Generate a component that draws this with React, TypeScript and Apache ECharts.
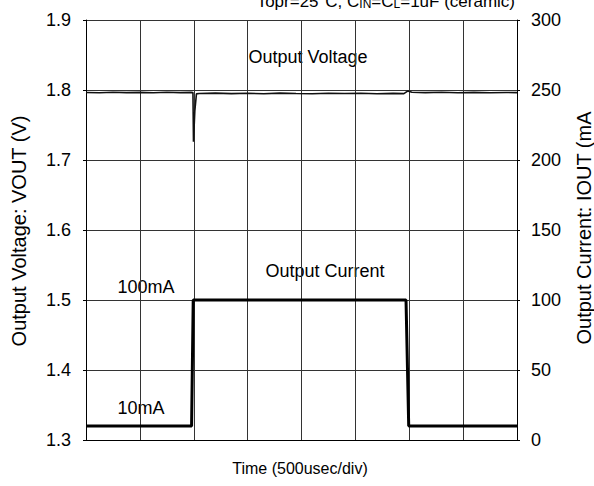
import React, { useEffect, useRef } from "react";
import * as echarts from "echarts";

// time in divisions (500usec/div)
const voltageTime = [0, 0.25, 0.5, 0.75, 1.0, 1.25, 1.5, 1.75, 1.95, 1.985, 1.995, 2.02, 2.05, 2.1, 2.4, 2.7, 3.0, 3.3, 3.6, 3.9, 4.2, 4.5, 4.8, 5.1, 5.4, 5.7, 5.9, 5.97, 6.05, 6.3, 6.6, 6.9, 7.2, 7.5, 7.8, 8.0];
const voltageValues = [1.7965, 1.796, 1.7968, 1.7962, 1.7966, 1.796, 1.7967, 1.7962, 1.7966, 1.7963, 1.726, 1.77, 1.7945, 1.795, 1.7955, 1.7948, 1.7953, 1.7947, 1.7955, 1.795, 1.7946, 1.7954, 1.7949, 1.7953, 1.7946, 1.7952, 1.7948, 1.7985, 1.7968, 1.7962, 1.7967, 1.796, 1.7966, 1.7961, 1.7965, 1.7962];

const currentTime = [0, 1.96, 1.99, 5.94, 5.99, 8.0];
const currentValues = [10, 10, 100, 100, 10, 10];

const voltTicks = [1.3, 1.9];
const currTicks = [0, 300];

export default function App() {
  const ref = useRef<HTMLDivElement>(null);
  useEffect(() => {
    if (!ref.current) return;
    const chart = echarts.init(ref.current, undefined, { renderer: "svg" });
    const font = "Liberation Sans, Arial, sans-serif";
    const txt = (text: string, x: number, y: number, size: number, rotation = 0) => ({
      type: "text",
      x,
      y,
      rotation,
      style: { text, fontSize: size, fontFamily: font, fill: "#000", align: "center", verticalAlign: "middle" },
    });
    chart.setOption({
      animation: false,
      textStyle: { fontFamily: font },
      grid: { left: 86, right: 77, top: 20, bottom: 46 },
      xAxis: {
        type: "value",
        min: 0,
        max: 8,
        interval: 1,
        axisLine: { show: true, onZero: false, lineStyle: { color: "#000", width: 1 } },
        axisTick: { show: false },
        axisLabel: { show: false },
        splitLine: { show: true, lineStyle: { color: "#333", width: 1 } },
      },
      yAxis: [
        {
          type: "value",
          min: voltTicks[0],
          max: voltTicks[1],
          interval: 0.1,
          position: "left",
          axisLine: { show: true, lineStyle: { color: "#000", width: 1 } },
          axisTick: { show: true, length: 3, lineStyle: { color: "#000" } },
          axisLabel: {
            color: "#000",
            fontSize: 18,
            fontFamily: font,
            margin: 15,
            formatter: (v: number) => v.toFixed(1),
          },
          splitLine: { show: true, lineStyle: { color: "#333", width: 1 } },
        },
        {
          type: "value",
          min: currTicks[0],
          max: currTicks[1],
          interval: 50,
          position: "right",
          axisLine: { show: true, lineStyle: { color: "#000", width: 1 } },
          axisTick: { show: true, length: 3, lineStyle: { color: "#000" } },
          axisLabel: { color: "#000", fontSize: 18, fontFamily: font, margin: 14 },
          splitLine: { show: false },
        },
      ],
      series: [
        {
          type: "line",
          yAxisIndex: 0,
          data: voltageTime.map((t, i) => [t, voltageValues[i]]),
          symbol: "none",
          lineStyle: { color: "#111", width: 1.6 },
        },
        {
          type: "line",
          yAxisIndex: 1,
          data: currentTime.map((t, i) => [t, currentValues[i]]),
          symbol: "none",
          lineStyle: { color: "#000", width: 3 },
        },
      ],
      graphic: [
        {
          type: "text",
          x: 515,
          y: 10,
          style: {
            text: "Topr=25°C, C{s|IN}=C{s|L}=1uF (ceramic)",
            fontSize: 17,
            fontFamily: font,
            fill: "#000",
            align: "right",
            verticalAlign: "bottom",
            rich: { s: { fontSize: 12, fontFamily: font, padding: [6, 0, 0, 0] } },
          },
        },
        txt("Output Voltage", 308, 57, 18),
        txt("Output Current", 325, 271, 18),
        txt("100mA", 146, 287, 18),
        txt("10mA", 141, 408, 18),
        txt("Time (500usec/div)", 300, 468, 16),
        txt("Output Voltage: VOUT (V)", 19, 231, 20, Math.PI / 2),
        txt("Output Current: IOUT (mA", 584, 228, 20, Math.PI / 2),
      ],
    });
    return () => chart.dispose();
  }, []);
  return <div ref={ref} style={{ width: 594, height: 486, position: "absolute", left: 0, top: 0 }} />;
}
